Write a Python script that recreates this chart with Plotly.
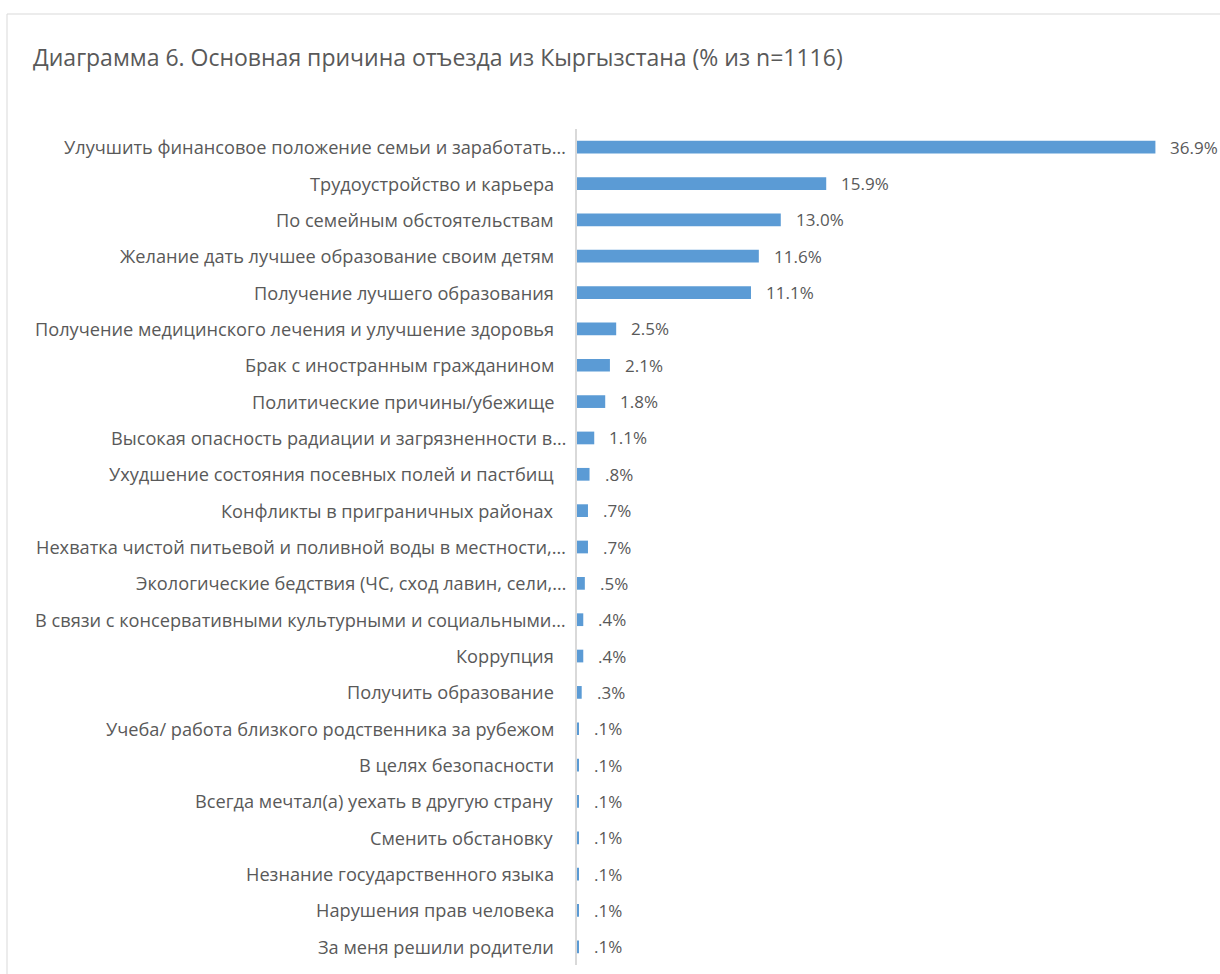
import plotly.graph_objects as go

categories = [
    "Улучшить финансовое положение семьи и заработать…",
    "Трудоустройство и карьера",
    "По семейным обстоятельствам",
    "Желание дать лучшее образование своим детям",
    "Получение лучшего образования",
    "Получение медицинского лечения и улучшение здоровья",
    "Брак с иностранным гражданином",
    "Политические причины/убежище",
    "Высокая опасность радиации и загрязненности в…",
    "Ухудшение состояния посевных полей и пастбищ",
    "Конфликты в приграничных районах",
    "Нехватка чистой питьевой и поливной воды в местности,…",
    "Экологические бедствия (ЧС, сход лавин, сели,…",
    "В связи с консервативными культурными и социальными…",
    "Коррупция",
    "Получить образование",
    "Учеба/ работа близкого родственника за рубежом",
    "В целях безопасности",
    "Всегда мечтал(а) уехать в другую страну",
    "Сменить обстановку",
    "Незнание государственного языка",
    "Нарушения прав человека",
    "За меня решили родители",
]
values = [36.9, 15.9, 13.0, 11.6, 11.1, 2.5, 2.1, 1.8, 1.1, 0.8, 0.7, 0.7, 0.5,
          0.4, 0.4, 0.3, 0.1, 0.1, 0.1, 0.1, 0.1, 0.1, 0.1]
value_labels = ["36.9%", "15.9%", "13.0%", "11.6%", "11.1%", "2.5%", "2.1%", "1.8%",
                "1.1%", ".8%", ".7%", ".7%", ".5%", ".4%", ".4%", ".3%",
                ".1%", ".1%", ".1%", ".1%", ".1%", ".1%", ".1%"]
title_text = "Диаграмма 6. Основная причина отъезда из Кыргызстана (% из n=1116)"

TEXT = "#595959"
GRID = "#D9D9D9"
FONT = "Open Sans"

W, H = 1220, 974
L, R, T, B = 577, 16, 129, 9
pw, ph = W - L - R, H - T - B

fig = go.Figure()
fig.add_trace(go.Bar(
    x=values, y=categories, orientation="h",
    marker=dict(color="#5B9BD5", line=dict(width=0)),
    hoverinfo="x+y",
))

for c, v, lab in zip(categories, values, value_labels):
    fig.add_annotation(x=v, y=c, xref="x", yref="y", text=lab, showarrow=False,
                       xanchor="left", yanchor="middle", xshift=13,
                       font=dict(family=FONT, size=17, color=TEXT))

# category labels (Excel lets truncated labels overflow closer to the axis)
for c in categories:
    fig.add_annotation(x=0, y=c, xref="x", yref="y", text=c, showarrow=False,
                       xanchor="right", yanchor="middle",
                       xshift=-9 if c.endswith("…") else -21,
                       font=dict(family=FONT, size=18.2, color=TEXT))

# chart border
fig.add_shape(type="rect", xref="paper", yref="paper",
              x0=(7 - L) / pw, x1=(1240 - L) / pw,
              y0=(H - B - 990) / ph, y1=(H - B - 14) / ph,
              line=dict(color=GRID, width=1), fillcolor="rgba(0,0,0,0)", layer="below")

fig.update_layout(
    width=W, height=H,
    margin=dict(l=L, r=R, t=T, b=B, autoexpand=False),
    paper_bgcolor="white", plot_bgcolor="white",
    bargap=0.65,
    showlegend=False,
    title=dict(text=title_text,
               x=33 / W, xanchor="left", y=1 - 58 / H, yanchor="middle",
               font=dict(family=FONT, size=23, color=TEXT)),
    xaxis=dict(range=[0, 40], visible=False, fixedrange=True),
    yaxis=dict(autorange="reversed", showline=True, linecolor=GRID, linewidth=1.5,
               showgrid=False, ticks="", showticklabels=False),
)

fig.write_html("out.html", config={"displayModeBar": False},
               post_script="document.body.style.margin='0';document.body.style.overflow='hidden';")
